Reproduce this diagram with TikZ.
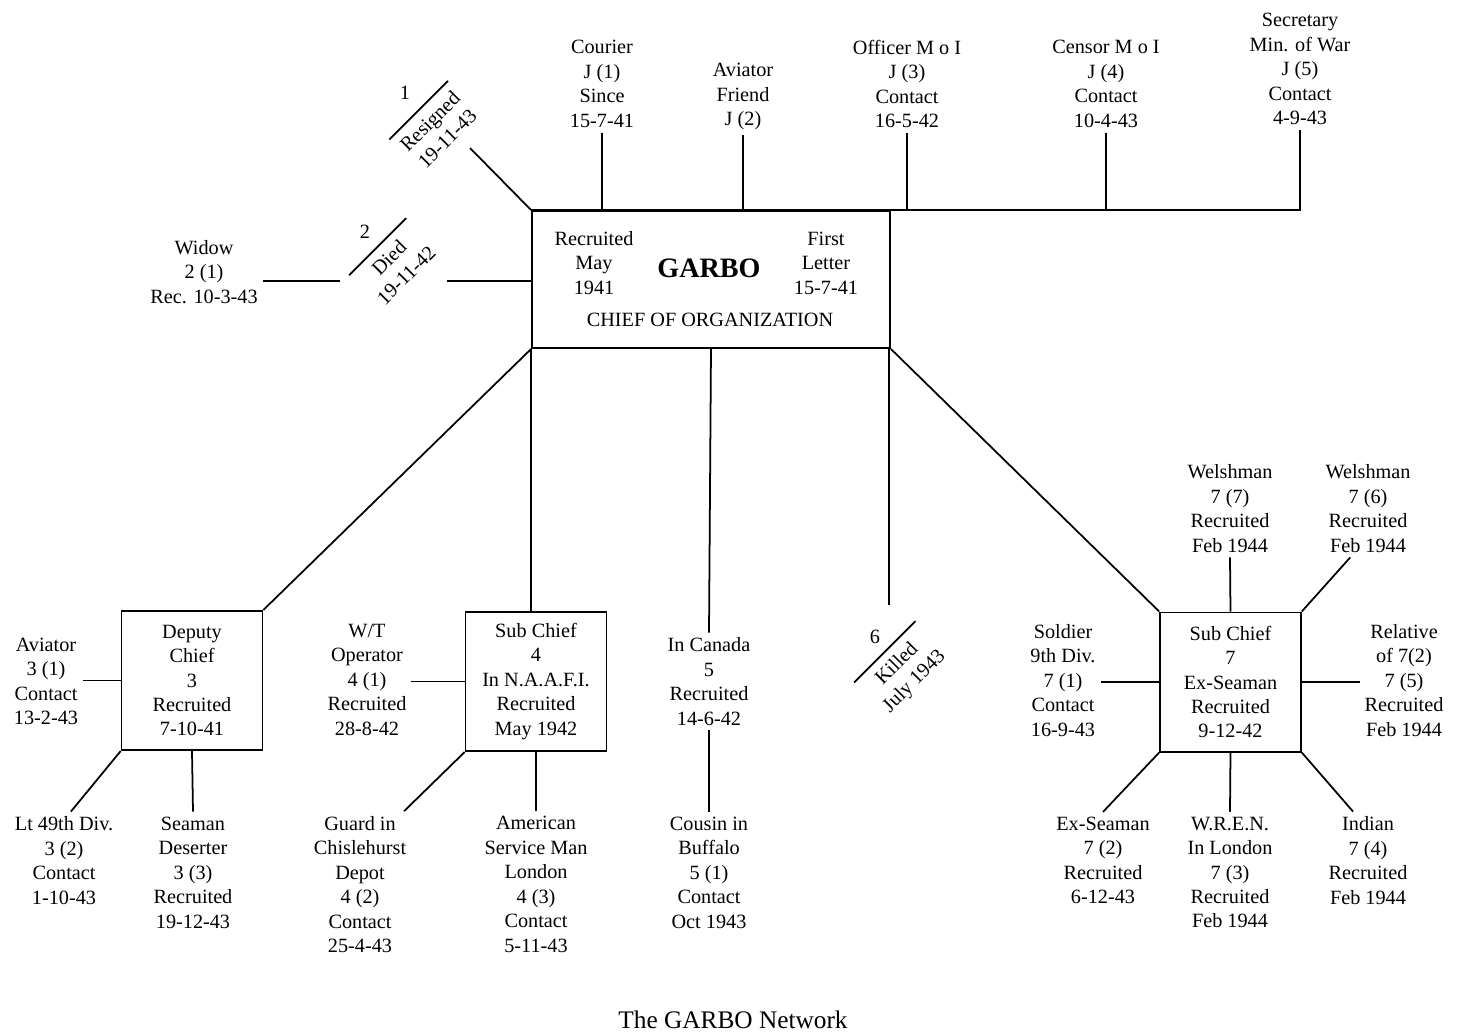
\documentclass[tikz,border=0pt]{standalone}
\usepackage{fontspec}
\setmainfont{Liberation Serif}
\begin{document}
\begin{tikzpicture}[x=0.025cm, y=-0.025cm, line width=1.25pt,
  agent/.style = {align=center, inner sep=3pt, font=\fontsize{14.4}{17.4}\selectfont},
  cell/.style = {agent, draw, minimum width=3.52cm, minimum height=3.48cm},
  fate/.style = {agent, rotate=45, inner xsep=2pt, inner ysep=5.5pt}]
\useasboundingbox (0,0) rectangle (1462,1034);

% chief of organization
\node[draw, minimum width=8.95cm, minimum height=3.43cm] (garbo) at (711,279.5) {};
\node[agent] (recmay) at (594,263) {Recruited\\May\\1941};
\node[font=\fontsize{20}{24}\selectfont\bfseries] (garboname) at (709,268) {GARBO};
\node[agent] (firstletter) at (826,263) {First\\Letter\\15-7-41};
\node[agent] (chief) at (710,320) {CHIEF OF ORGANIZATION};

% J agents
\node[agent] (courier) at (602,84) {Courier\\J (1)\\Since\\15-7-41};
\node[agent] (aviatorj) at (743,96.5) {Aviator\\Friend\\J (2)};
\node[agent] (officer) at (907,84) {Officer M o I\\J (3)\\Contact\\16-5-42};
\node[agent] (censor) at (1106,84) {Censor M o I\\J (4)\\Contact\\10-4-43};
\node[agent] (secretary) at (1300,69) {Secretary\\Min. of War\\J (5)\\Contact\\4-9-43};

% lost agents
\node[fate] (resigned) at (438.5,130) {Resigned\\19-11-43};
\node[agent] (one) at (405,93) {1};
\node[fate] (died) at (397.5,266.5) {Died\\19-11-42};
\node[agent] (two) at (365,232) {2};
\node[fate] (killed) at (906,673) {Killed\\July 1943};
\node[agent] (six) at (875,637) {6};
\node[agent] (widow) at (204,272) {Widow\\2 (1)\\Rec. 10-3-43};
\coordinate (resignedend) at (470,148);
\coordinate (diedL) at (340,281);
\coordinate (diedR) at (447,281);
\coordinate (killedend) at (889,605);

% sub chiefs
\node[cell] (deputy) at (192,680.5) {Deputy\\Chief\\3\\Recruited\\7-10-41};
\node[cell] (subfour) at (536,681.5) {Sub Chief\\4\\In N.A.A.F.I.\\Recruited\\May 1942};
\node[agent] (canada) at (709,681.5) {In Canada\\5\\Recruited\\14-6-42};
\node[cell] (subseven) at (1230.5,682) {Sub Chief\\7\\Ex-Seaman\\Recruited\\9-12-42};

% their agents
\node[agent] (aviatorc) at (46,681.5) {Aviator\\3 (1)\\Contact\\13-2-43};
\node[agent] (lt49) at (64,860.5) {Lt 49th Div.\\3 (2)\\Contact\\1-10-43};
\node[agent] (seaman) at (193,872.5) {Seaman\\Deserter\\3 (3)\\Recruited\\19-12-43};
\node[agent] (wt) at (367,679.5) {W/T\\Operator\\4 (1)\\Recruited\\28-8-42};
\node[agent] (guard) at (360,884.5) {Guard in\\Chislehurst\\Depot\\4 (2)\\Contact\\25-4-43};
\node[agent] (american) at (536,884.5) {American\\Service Man\\London\\4 (3)\\Contact\\5-11-43};
\node[agent] (cousin) at (709,872.5) {Cousin in\\Buffalo\\5 (1)\\Contact\\Oct 1943};
\node[agent] (welshA) at (1230,508.5) {Welshman\\7 (7)\\Recruited\\Feb 1944};
\node[agent] (welshB) at (1368,508.5) {Welshman\\7 (6)\\Recruited\\Feb 1944};
\node[agent] (soldier) at (1063,680.5) {Soldier\\9th Div.\\7 (1)\\Contact\\16-9-43};
\node[agent] (relative) at (1404,680.5) {Relative\\of 7(2)\\7 (5)\\Recruited\\Feb 1944};
\node[agent] (exseaman) at (1103,860.5) {Ex-Seaman\\7 (2)\\Recruited\\6-12-43};
\node[agent] (wren) at (1230,872.5) {W.R.E.N.\\In London\\7 (3)\\Recruited\\Feb 1944};
\node[agent] (indian) at (1368,860.5) {Indian\\7 (4)\\Recruited\\Feb 1944};

\node[font=\fontsize{18}{22}\selectfont] (caption) at (733,1020) {The GARBO Network};

% connections
\draw (garbo.north west) -- (garbo.north west -| secretary.south) -- (secretary.south);
\foreach \n in {courier, aviatorj, officer, censor}
  \draw (\n.south) -- (\n.south |- garbo.north);
\draw (resigned.north west) -- (resigned.north east);
\draw (died.north west) -- (died.north east);
\draw (killed.north west) -- (killed.north east);
\draw (garbo.north west) -- (resignedend);
\draw (garbo.west |- diedR) -- (diedR);
\draw (widow.east |- diedL) -- (diedL);
\draw (garbo.south east -| killedend) -- (killedend);
\draw (garbo.south west) -- (deputy.north east);
\draw (garbo.south west) -- (garbo.south west |- subfour.north);
\draw (garbo.south) -- (canada.north);
\draw (garbo.south east) -- (subseven.north west);
\draw (deputy.west) -- (aviatorc.east |- deputy.west);
\draw (deputy.south west) -- (lt49.82);
\draw (deputy.south) -- (seaman.north);
\draw (subfour.west) -- (wt.east |- subfour.west);
\draw (subfour.south west) -- (guard.59);
\draw (subfour.south) -- (american.north);
\draw (canada.south) -- (cousin.north);
\draw (subseven.north) -- (welshA.south);
\draw (subseven.north east) -- (welshB.250);
\draw (subseven.west) -- (soldier.east |- subseven.west);
\draw (subseven.east) -- (relative.west |- subseven.east);
\draw (subseven.south west) -- (exseaman.north);
\draw (subseven.south) -- (wren.north);
\draw (subseven.south east) -- (indian.107);
\end{tikzpicture}
\end{document}
